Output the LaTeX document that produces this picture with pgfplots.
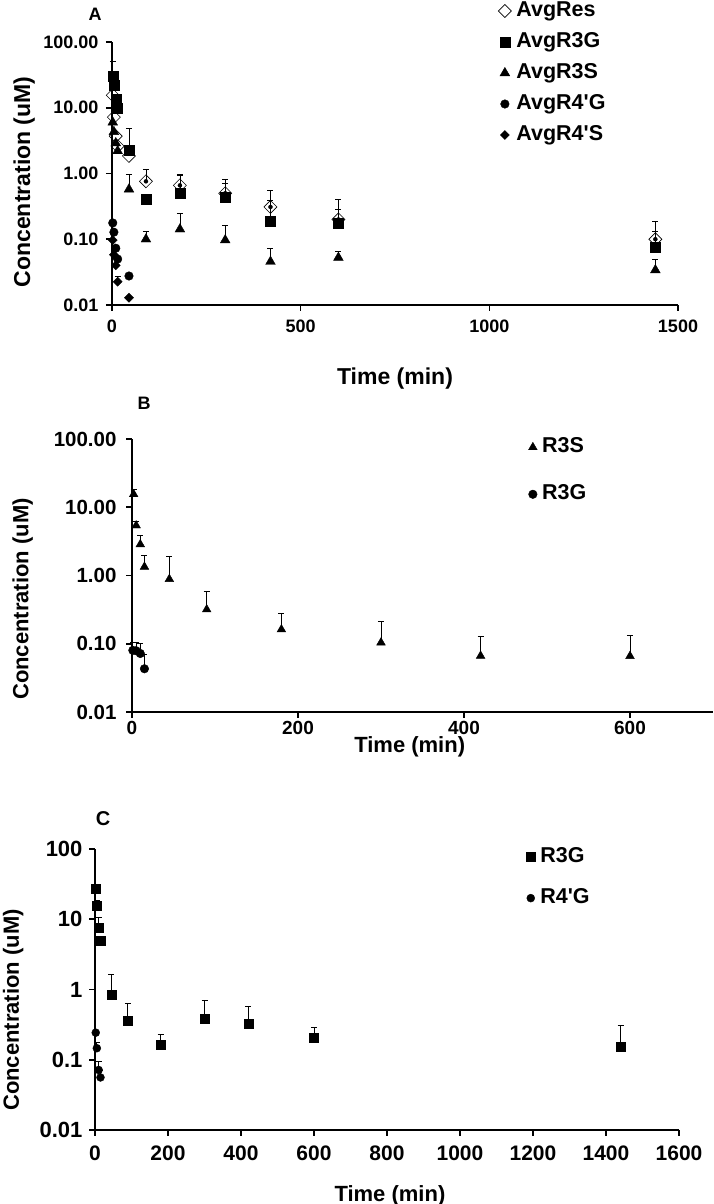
\documentclass[border=0pt]{standalone}
\usepackage{fontspec}
\setmainfont{Liberation Sans}
\usepackage{pgfplots}
\pgfplotsset{compat=1.18}

\pgfplotsset{
  myerrs/.style={forget plot, only marks, mark=none,
    error bars/y dir=plus, error bars/y explicit,
    error bars/error bar style={line width=0.8pt, black},
    error bars/error mark options={rotate=90, mark size=3pt, line width=0.8pt, black}},
}

\begin{document}
\begin{tikzpicture}[x=1pt,y=1pt]
\path[use as bounding box] (0,0) rectangle (714,1204);

% ---------------- Panel A ----------------
\begin{axis}[
  scale only axis, anchor=south west,
  ymode=log, ymin=0.01, ymax=100,
  ytick={0.01,0.1,1,10,100},
  yminorticks=false, xminorticks=false,
  axis lines*=left,
  axis line style={line width=2pt, black},
  tick style={line width=1.6pt, black},
  major tick length=6pt, tick align=outside, clip=false,
  legend cell align=left,
  at={(112pt,899pt)}, width=566pt, height=263pt,
  xmin=0, xmax=1500, xtick={0,500,1000,1500}, xticklabels={0,500,1000,1500},
  yticklabels={0.01,0.10,1.00,10.00,100.00},
  ticklabel style={font=\bfseries\fontsize{18}{18}\selectfont},
  yticklabel style={xshift=-4pt},
  xticklabel style={yshift=-5pt},
  xlabel={Time (min)}, ylabel={Concentration (uM)},
  label style={font=\bfseries\fontsize{23}{23}\selectfont},
  xlabel style={at={(axis description cs:0.5,-0.278)}, anchor=center},
  ylabel style={at={(axis description cs:-0.155,0.468)}, anchor=center},
  legend style={draw=none, fill=none, anchor=north west, at={(0.677,1.168)}, row sep=9pt,
    nodes={inner sep=1pt, text height=15pt, text depth=5pt},
    font=\bfseries\fontsize{21.5}{21.5}\selectfont,
    /tikz/every odd column/.append style={column sep=4pt}},
]
% error bars
\addplot[myerrs] table[x=t,y=c,y error=e] {
t c e
90 0.76 0.40
180 0.66 0.31
300 0.50 0.32
420 0.31 0.25
600 0.20 0.20
1440 0.10 0.09
};
\addplot[myerrs] table[x=t,y=c,y error=e] {
t c e
2 30.4 19.6
45 2.28 2.59
180 0.50 0.42
300 0.435 0.265
420 0.19 0.20
600 0.175 0.11
1440 0.077 0.056
};
\addplot[myerrs] table[x=t,y=c,y error=e] {
t c e
45 0.575 0.405
90 0.10 0.033
180 0.142 0.106
300 0.097 0.068
420 0.0456 0.0274
600 0.0525 0.0125
1440 0.034 0.0155
};
\addplot[myerrs] table[x=t,y=c,y error=e] {
t c e
15 0.0226 0.0044
};
% marks
\addplot[only marks, mark=square, mark size=4.6pt, mark options={rotate=45, fill=white, draw=black, line width=0.6pt}] table[x=t,y=c] {
t c
2 15.5
5 7.2
10 3.7
15 2.6
45 1.85
90 0.76
180 0.66
300 0.50
420 0.31
600 0.20
1440 0.10
};
\addlegendentry{AvgRes}
\addplot[only marks, mark=square*, mark size=5pt, black] table[x=t,y=c] {
t c
2 30.4
5 22.2
10 13.6
15 9.8
45 2.28
90 0.405
180 0.50
300 0.435
420 0.19
600 0.175
1440 0.077
};
\addlegendentry{AvgR3G}
\addplot[only marks, mark=triangle*, mark size=5.6pt, black] table[x=t,y=c] {
t c
2 6.0
5 4.3
10 2.9
15 2.2
45 0.575
90 0.10
180 0.142
300 0.097
420 0.0456
600 0.0525
1440 0.034
};
\addlegendentry{AvgR3S}
\addplot[only marks, mark=*, mark size=4.3pt, black] table[x=t,y=c] {
t c
2 0.177
5 0.128
10 0.073
15 0.050
45 0.0276
};
\addlegendentry{AvgR4\textquotesingle G}
\addplot[only marks, mark=square*, mark size=3.2pt, mark options={rotate=45}, black] table[x=t,y=c] {
t c
2 0.097
5 0.058
10 0.040
15 0.0226
45 0.0129
};
\addlegendentry{AvgR4\textquotesingle S}
\node[font=\bfseries\fontsize{18}{18}\selectfont] at (rel axis cs:-0.030,1.106) {A};
\end{axis}

% ---------------- Panel B ----------------
\begin{axis}[
  scale only axis, anchor=south west,
  ymode=log, ymin=0.01, ymax=100,
  ytick={0.01,0.1,1,10,100},
  yminorticks=false, xminorticks=false,
  axis lines*=left,
  axis line style={line width=2pt, black},
  tick style={line width=1.6pt, black},
  major tick length=6pt, tick align=outside, clip=false,
  legend cell align=left,
  at={(132pt,492pt)}, width=581pt, height=273pt,
  xmin=0, xmax=700, xtick={0,200,400,600}, xticklabels={0,200,400,600},
  yticklabels={0.01,0.10,1.00,10.00,100.00},
  yticklabel style={font=\bfseries\fontsize{20.5}{20.5}\selectfont, xshift=-6pt},
  xticklabel style={font=\bfseries\fontsize{19}{19}\selectfont},
  xlabel={Time (min)}, ylabel={Concentration (uM)},
  label style={font=\bfseries\fontsize{22}{22}\selectfont},
  xlabel style={at={(axis description cs:0.478,-0.128)}, anchor=center},
  ylabel style={at={(axis description cs:-0.188,0.414)}, anchor=center},
  legend style={draw=none, fill=none, anchor=north west, at={(0.677,1.018)}, row sep=25pt,
    nodes={inner sep=1pt, text height=15pt, text depth=5pt},
    font=\bfseries\fontsize{21.5}{21.5}\selectfont,
    /tikz/every odd column/.append style={column sep=4pt}},
]
\addplot[myerrs] table[x=t,y=c,y error=e] {
t c e
2 15.5 2.8
5 5.4 0.9
10 2.86 1.01
15 1.34 0.60
45 0.885 1.035
90 0.318 0.259
180 0.162 0.116
300 0.104 0.108
420 0.0665 0.0615
600 0.066 0.068
};
\addplot[myerrs] table[x=t,y=c,y error=e] {
t c e
1 0.080 0.025
5 0.079 0.026
10 0.072 0.028
15 0.043 0.027
};
\addplot[only marks, mark=triangle*, mark size=5pt, black] table[x=t,y=c] {
t c
2 15.5
5 5.4
10 2.86
15 1.34
45 0.885
90 0.318
180 0.162
300 0.104
420 0.0665
600 0.066
};
\addlegendentry{R3S}
\addplot[only marks, mark=*, mark size=4.3pt, black] table[x=t,y=c] {
t c
1 0.080
5 0.079
10 0.072
15 0.043
};
\addlegendentry{R3G}
\node[font=\bfseries\fontsize{18}{18}\selectfont] at (rel axis cs:0.021,1.132) {B};
\end{axis}

% ---------------- Panel C ----------------
\begin{axis}[
  scale only axis, anchor=south west,
  ymode=log, ymin=0.01, ymax=100,
  ytick={0.01,0.1,1,10,100},
  yminorticks=false, xminorticks=false,
  axis lines*=left,
  axis line style={line width=2pt, black},
  tick style={line width=1.6pt, black},
  major tick length=6pt, tick align=outside, clip=false,
  legend cell align=left,
  at={(95pt,74pt)}, width=584pt, height=281pt,
  xmin=0, xmax=1600, xtick={0,200,400,600,800,1000,1200,1400,1600},
  xticklabels={0,200,400,600,800,1000,1200,1400,1600},
  yticklabels={0.01,0.1,1,10,100},
  yticklabel style={font=\bfseries\fontsize{22}{22}\selectfont, xshift=-3pt},
  xticklabel style={font=\bfseries\fontsize{21}{21}\selectfont, yshift=-6pt},
  xlabel={Time (min)}, ylabel={Concentration (uM)},
  label style={font=\bfseries\fontsize{22}{22}\selectfont},
  xlabel style={at={(axis description cs:0.505,-0.234)}, anchor=center},
  ylabel style={at={(axis description cs:-0.140,0.427)}, anchor=center},
  legend style={draw=none, fill=none, anchor=north west, at={(0.733,1.018)}, row sep=19pt,
    nodes={inner sep=1pt, text height=15pt, text depth=5pt},
    font=\bfseries\fontsize{21.5}{21.5}\selectfont,
    /tikz/every odd column/.append style={column sep=4pt}},
]
\addplot[myerrs] table[x=t,y=c,y error=e] {
t c e
5 15.6 3.2
10 7.7 3.0
45 0.83 0.81
90 0.36 0.28
180 0.162 0.07
300 0.39 0.31
420 0.323 0.257
600 0.206 0.084
1440 0.152 0.161
};
\addplot[myerrs] table[x=t,y=c,y error=e] {
t c e
5 0.146 0.029
10 0.0715 0.0225
15 0.056 0.014
};
\addplot[only marks, mark=square*, mark size=4.5pt, black] table[x=t,y=c] {
t c
2 27.6
5 15.6
10 7.7
15 4.9
45 0.83
90 0.36
180 0.162
300 0.39
420 0.323
600 0.206
1440 0.152
};
\addlegendentry{R3G}
\addplot[only marks, mark=*, mark size=4pt, black] table[x=t,y=c] {
t c
2 0.243
5 0.146
10 0.0715
15 0.056
};
\addlegendentry{R4\textquotesingle G}
\node[font=\bfseries\fontsize{20}{20}\selectfont] at (rel axis cs:0.014,1.107) {C};
\end{axis}
\end{tikzpicture}
\end{document}
